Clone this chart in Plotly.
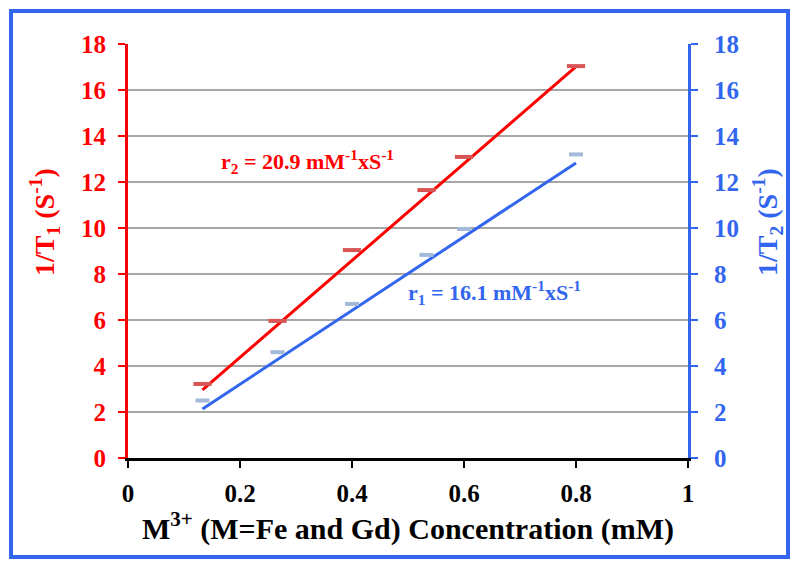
import plotly.graph_objects as go

# Data
conc = [0.133, 0.267, 0.4, 0.533, 0.6, 0.8]
inv_t1 = [3.22, 5.96, 9.04, 11.65, 13.09, 17.04]   # red, left axis
inv_t2 = [2.5, 4.6, 6.7, 8.83, 9.96, 13.2]          # blue, right axis

fit_x = [0.133, 0.8]
fit_red = [2.96, 17.02]
fit_blue = [2.13, 12.83]

xticks = [0, 0.2, 0.4, 0.6, 0.8, 1]
xticklabels = ["0", "0.2", "0.4", "0.6", "0.8", "1"]
yticks = [0, 2, 4, 6, 8, 10, 12, 14, 16, 18]

RED = "#ff0000"
BLUE = "#3366ee"
FONT = "Liberation Serif"

fig = go.Figure()
fig.add_trace(go.Scatter(x=fit_x, y=fit_red, mode="lines",
                         line=dict(color=RED, width=3), yaxis="y", showlegend=False))
fig.add_trace(go.Scatter(x=conc, y=inv_t1, mode="markers",
                         marker=dict(symbol="line-ew", size=13, line=dict(color="#d95555", width=4)),
                         yaxis="y", showlegend=False))
fig.add_trace(go.Scatter(x=fit_x, y=fit_blue, mode="lines",
                         line=dict(color=BLUE, width=3), yaxis="y2", showlegend=False))
fig.add_trace(go.Scatter(x=conc, y=inv_t2, mode="markers",
                         marker=dict(symbol="line-ew", size=10, line=dict(color="#a3b9d9", width=4)),
                         yaxis="y2", showlegend=False))

fig.update_layout(
    width=792, height=560,
    margin=dict(l=120, r=112, t=36, b=110),
    paper_bgcolor="white", plot_bgcolor="white",
    font=dict(family=FONT),
    xaxis=dict(range=[0, 1], tickvals=xticks, ticktext=xticklabels,
               showgrid=False, zeroline=False,
               showline=True, linecolor="black", linewidth=3,
               ticks="outside", ticklen=7, tickwidth=2, tickcolor="black",
               ticklabelstandoff=4,
               tickfont=dict(size=25, color="black", family=FONT, weight="bold"),
               title=dict(text="<b>M<sup>3+</sup> (M=Fe and Gd) Concentration (mM)</b>",
                          font=dict(size=30, color="black", family=FONT), standoff=3)),
    yaxis=dict(range=[0, 18], tickvals=yticks,
               showgrid=True, gridcolor="#a6a6a6", gridwidth=1.5, zeroline=False,
               showline=True, linecolor=RED, linewidth=3,
               ticks="outside", ticklen=7, tickwidth=2, tickcolor=RED,
               ticklabelstandoff=7,
               tickfont=dict(size=25, color=RED, family=FONT, weight="bold")),
    yaxis2=dict(range=[0, 18], tickvals=yticks, overlaying="y", side="right",
                showgrid=False, zeroline=False,
                showline=True, linecolor=BLUE, linewidth=3,
                ticks="outside", ticklen=7, tickwidth=2, tickcolor=BLUE,
                ticklabelstandoff=11,
                tickfont=dict(size=25, color=BLUE, family=FONT, weight="bold")),
    annotations=[
        dict(x=0.32, y=12.87, xref="x", yref="y", showarrow=False,
             text="<b>r<sub>2</sub> = 20.9 mM<sup>-1</sup>xS<sup>-1</sup></b>",
             font=dict(size=22, color=RED, family=FONT)),
        dict(x=0.655, y=7.2, xref="x", yref="y", showarrow=False,
             text="<b>r<sub>1</sub> = 16.1 mM<sup>-1</sup>xS<sup>-1</sup></b>",
             font=dict(size=22, color=BLUE, family=FONT)),
        dict(x=-0.15, y=0.57, xref="paper", yref="paper", showarrow=False,
             xanchor="center", yanchor="middle", textangle=-90,
             text="<b>1/T<sub>1</sub> (S<sup>-1</sup>)</b>",
             font=dict(size=28, color=RED, family=FONT)),
        dict(x=1.141, y=0.57, xref="paper", yref="paper", showarrow=False,
             xanchor="center", yanchor="middle", textangle=-90,
             text="<b>1/T<sub>2</sub> (S<sup>-1</sup>)</b>",
             font=dict(size=28, color=BLUE, family=FONT)),
    ],
    shapes=[dict(type="rect", xref="paper", yref="paper",
                 x0=-0.2089, x1=1.1786, y0=-0.2391, y1=1.0797,
                 line=dict(color=BLUE, width=4), layer="above")],
)

fig.write_html("out.html")
